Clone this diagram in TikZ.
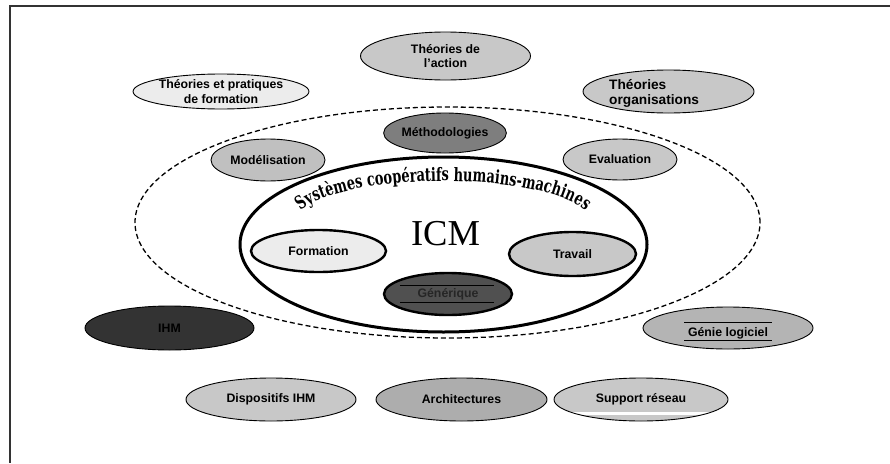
\documentclass[tikz,border=0pt]{standalone}
\usepackage{fontspec}
\setmainfont{Liberation Serif}
\setsansfont{Liberation Sans}
\newfontfamily\arcfont[FakeStretch=0.70]{DejaVu Serif}
\usetikzlibrary{shapes.geometric,decorations.text}
\definecolor{gA}{HTML}{ECECEC}
\definecolor{gB}{HTML}{C8C8C8}
\definecolor{gC}{HTML}{C0C0C0}
\definecolor{gD}{HTML}{B4B4B4}
\definecolor{gE}{HTML}{ADADAD}
\definecolor{gF}{HTML}{7E7E7E}
\definecolor{gG}{HTML}{505050}
\definecolor{gH}{HTML}{333333}
\definecolor{gT}{HTML}{262626}
\tikzset{
  bub/.style={ellipse, draw, line width=0.9pt, inner sep=0pt, align=center,
    font=\sffamily\bfseries\fontsize{12.3}{14.5}\selectfont},
  heavy/.style={bub, line width=2.4pt},
  sz/.style n args={2}{minimum width=#1pt, minimum height=#2pt},
  rule/.style={line width=1pt},
}
\begin{document}
\begin{tikzpicture}[x=1pt,y=1pt]
\useasboundingbox (0,0) rectangle (890,-463);
% page frame (top and left edges)
\draw[line width=1.6pt, draw=gH] (890,-6) -- (10,-6) -- (10,-463);

% outer ring of themes
\node[bub, fill=gB, sz={170}{48}] (act) at (445.5,-56) {Théories de\\l'action};
\node[bub, fill=gA, sz={170}{35}] (prat) at (221,-91.5) {Théories et pratiques\\de formation};
\node[bub, fill=gB, sz={171}{43}] (org) at (668.5,-91.5) {};
\node[font=\sffamily\bfseries\fontsize{13.7}{15}\selectfont, align=left, anchor=west,
  inner sep=0pt] (orgtxt) at (609,-93) {Théories\\organisations};

% dashed zone
\node[ellipse, draw, dashed, line width=1.3pt, dash pattern=on 5pt off 3pt,
  sz={625}{231}] (zone) at (447.5,-222.5) {};

\node[bub, fill=gF, sz={114}{40}] (meth) at (445,-133) {Méthodologies};
\node[bub, fill=gC, sz={114}{42}] (mod) at (268,-160) {Modélisation};
\node[bub, fill=gB, sz={114}{41}] (eval) at (620,-159.5) {Evaluation};

% core ellipse with its curved title
\node[ellipse, draw, line width=3pt, sz={407}{175}] (core) at (443.5,-244.5) {};
\path[decorate, decoration={text along path, text align=center,
    text format delimiters={|}{|},
    text={|\arcfont\bfseries\fontsize{18.5}{20}\selectfont|Systèmes coopératifs humains-machines}}]
  (443,-224) ++(176:150 and 43) arc[start angle=176, end angle=4, x radius=150, y radius=43];
\node[font=\rmfamily\fontsize{36.5}{38}\selectfont, inner sep=0pt, anchor=base] (icm) at (445.5,-245) {ICM};

\node[heavy, fill=gA, sz={135}{42}] (form) at (318.5,-251) {Formation};
\node[heavy, fill=gB, sz={127}{44}] (trav) at (572.5,-254) {Travail};
\node[heavy, fill=gG, sz={128}{42}, text=gT] (gen) at (448,-294) {Générique};
\draw[rule] ([shift={(-48,9)}]gen.center) -- ([shift={(46,9)}]gen.center);
\draw[rule] ([shift={(-48,-8)}]gen.center) -- ([shift={(46,-8)}]gen.center);

% lower themes
\node[bub, fill=gH, sz={169}{44}] (ihm) at (169.5,-328) {IHM};
\node[bub, fill=gD, sz={170}{42}] (genie) at (728,-328)
  {\raisebox{-8pt}[0pt][0pt]{Génie logiciel}};
\draw[rule] ([shift={(-44,6)}]genie.center) -- ([shift={(44,6)}]genie.center);
\draw[rule] ([shift={(-44,-12)}]genie.center) -- ([shift={(44,-12)}]genie.center);

\node[bub, fill=gB, sz={170}{43}] (disp) at (271,-399.5) {Dispositifs IHM};
\node[bub, fill=gE, sz={171}{43}] (arch) at (461.5,-399.5) {Architectures};
\node[bub, fill=gB, sz={174}{43},
  path picture={\fill[white] ([shift={(-71,-12.5)}]path picture bounding box.center)
    rectangle ([shift={(80,-15.5)}]path picture bounding box.center);}]
  (supp) at (641,-399.5) {Support réseau};
\end{tikzpicture}
\end{document}
